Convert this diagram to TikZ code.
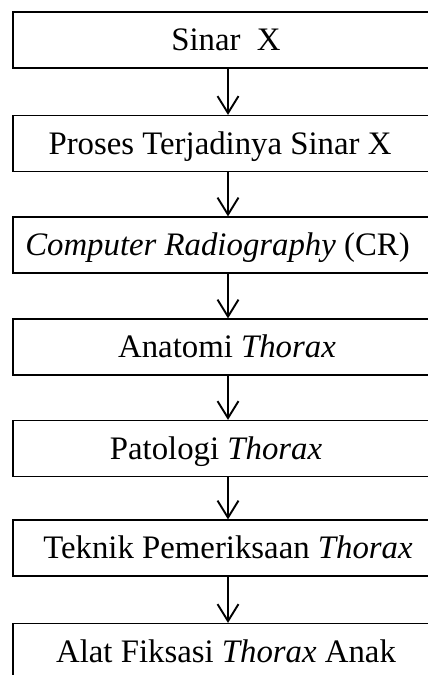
\documentclass[tikz,border=0pt]{standalone}
\usepackage{fontspec}
\setmainfont{Liberation Serif}
\usetikzlibrary{arrows.meta}
\begin{document}
\begin{tikzpicture}[x=1pt,y=-1pt,
  box/.style={draw,line width=1.2pt,minimum width=430pt,minimum height=56pt,inner sep=0pt},
  lbl/.style={font=\fontsize{32.8}{39}\selectfont,text height=21.7pt,text depth=0pt,inner sep=0pt},
  arr/.style={line width=1.9pt,-{Straight Barb[length=17pt,width=21pt,line width=1.9pt]}}]
\clip (0,0) rectangle (428,675);
\node[box] (b1) at (228,40) {};
\node[box] (b2) at (228,143.5) {};
\node[box] (b3) at (228,245) {};
\node[box] (b4) at (228,347) {};
\node[box] (b5) at (228,448.5) {};
\node[box] (b6) at (228,548) {};
\node[box] (b7) at (228,651.5) {};
\node[lbl] (l1) at ([xshift=-2pt]b1.center) {Sinar\ \ X};
\node[lbl] (l2) at ([xshift=-8pt]b2.center) {Proses Terjadinya Sinar X};
\node[lbl] (l3) at ([xshift=-10.5pt]b3.center) {\textit{Computer Radiography} (CR)};
\node[lbl] (l4) at ([xshift=-1pt]b4.center) {Anatomi \textit{Thorax}};
\node[lbl] (l5) at ([xshift=-12pt]b5.center) {Patologi \textit{Thorax}};
\node[lbl] (l6) at ([xshift=0pt]b6.center) {Teknik Pemeriksaan \textit{Thorax}};
\node[lbl] (l7) at ([xshift=-2pt]b7.center) {Alat Fiksasi \textit{Thorax} Anak};
\draw[arr] (b1.south) -- (b2.north);
\draw[arr] (b2.south) -- (b3.north);
\draw[arr] (b3.south) -- (b4.north);
\draw[arr] (b4.south) -- (b5.north);
\draw[arr] (b5.south) -- (b6.north);
\draw[arr] (b6.south) -- (b7.north);
\end{tikzpicture}
\end{document}
